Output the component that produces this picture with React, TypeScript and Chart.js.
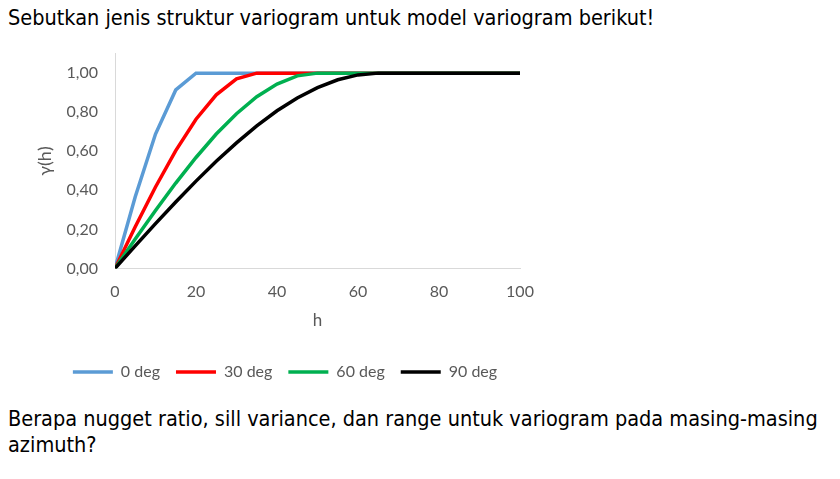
import React, { useEffect, useRef } from "react";
import { Chart, registerables } from "chart.js";

Chart.register(...registerables);

const hValues = [0, 5, 10, 15, 20, 25, 30, 35, 40, 45, 50, 55, 60, 65, 70, 75, 80, 85, 90, 95, 100];
const deg0 = [0, 0.367, 0.688, 0.914, 1, 1, 1, 1, 1, 1, 1, 1, 1, 1, 1, 1, 1, 1, 1, 1, 1];
const deg30 = [0, 0.213, 0.417, 0.603, 0.764, 0.889, 0.971, 1, 1, 1, 1, 1, 1, 1, 1, 1, 1, 1, 1, 1, 1];
const deg60 = [0, 0.150, 0.296, 0.437, 0.568, 0.688, 0.792, 0.879, 0.944, 0.986, 1, 1, 1, 1, 1, 1, 1, 1, 1, 1, 1];
const deg90 = [0, 0.115, 0.229, 0.340, 0.447, 0.549, 0.643, 0.730, 0.807, 0.873, 0.926, 0.966, 0.991, 1, 1, 1, 1, 1, 1, 1, 1];
const seriesNames = ["0 deg", "30 deg", "60 deg", "90 deg"];
const seriesColors = ["#5B9BD5", "#FF0000", "#00B050", "#000000"];

const FONT = "Lato, 'Open Sans', sans-serif";
const GRAY = "#595959";

export default function App() {
  const ref = useRef<HTMLCanvasElement | null>(null);

  useEffect(() => {
    document.body.style.margin = "0";
    const canvas = ref.current;
    if (!canvas) return;
    const all = [deg0, deg30, deg60, deg90];
    const chart = new Chart(canvas, {
      type: "line",
      data: {
        datasets: all.map((s, i) => ({
          label: seriesNames[i],
          data: hValues.map((h, j) => ({ x: h, y: s[j] })),
          borderColor: seriesColors[i],
          backgroundColor: seriesColors[i],
          borderWidth: 3.5,
          pointRadius: 0,
          pointHoverRadius: 0,
          tension: 0,
          fill: false,
          order: all.length - 1 - i,
        })),
      },
      options: {
        animation: false,
        responsive: false,
        maintainAspectRatio: false,
        layout: { padding: { left: 50, right: 50, top: 9, bottom: 0 } },
        plugins: {
          tooltip: { enabled: false },
          legend: {
            position: "bottom",
            labels: {
              usePointStyle: true,
              pointStyle: "line",
              pointStyleWidth: 40,
              boxHeight: 16,
              padding: 16,
              color: GRAY,
              font: { family: FONT, size: 16 },
              sort: (a: any, b: any) => a.datasetIndex - b.datasetIndex,
            },
          },
        },
        scales: {
          x: {
            type: "linear",
            min: 0,
            max: 100,
            grid: { display: false },
            border: { display: true, color: "#D9D9D9", width: 1 },
            ticks: {
              stepSize: 20,
              color: GRAY,
              padding: 6,
              font: { family: FONT, size: 16 },
              maxRotation: 0,
            },
            title: {
              display: true,
              text: "h",
              color: GRAY,
              font: { family: FONT, size: 17 },
              padding: { top: 3, bottom: 17 },
            },
          },
          y: {
            type: "linear",
            min: 0,
            max: 1.1,
            grid: { display: false },
            border: { display: true, color: "#D9D9D9", width: 1 },
            ticks: {
              stepSize: 0.2,
              includeBounds: false,
              color: GRAY,
              padding: 9,
              font: { family: FONT, size: 16 },
              callback: (v: any) => Number(v).toFixed(2).replace(".", ","),
            },
            title: {
              display: true,
              text: "γ(h)",
              color: GRAY,
              font: { family: FONT, size: 18 },
              padding: { top: -16, bottom: 8 },
            },
            afterFit: (scale: any) => {
              scale.width = 65;
            },
          },
        },
      },
    });
    return () => chart.destroy();
  }, []);

  const textStyle: React.CSSProperties = {
    position: "absolute",
    left: 8,
    fontFamily: "'DejaVu Sans Condensed', 'DejaVu Sans', sans-serif",
    fontSize: 21.5,
    color: "#000",
    whiteSpace: "nowrap",
    lineHeight: "26px",
  };

  return (
    <div style={{ position: "relative", width: 840, height: 479, background: "#fff", overflow: "hidden" }}>
      <div style={{ ...textStyle, top: 5 }}>Sebutkan jenis struktur variogram untuk model variogram berikut!</div>
      <canvas ref={ref} width={570} height={355} style={{ position: "absolute", left: 0, top: 35, width: 570, height: 355 }} />
      <div style={{ ...textStyle, top: 405.5 }}>
        Berapa nugget ratio, sill variance, dan range untuk variogram pada masing-masing
        <br />
        azimuth?
      </div>
    </div>
  );
}
